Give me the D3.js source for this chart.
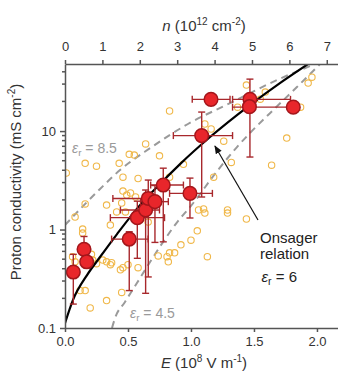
<!DOCTYPE html>
<html>
<head>
<meta charset="utf-8">
<script src="https://cdn.jsdelivr.net/npm/d3@7"></script>
<style>
  body { margin: 0; background: #fff; }
  svg { font-family: "Liberation Sans", Arial, sans-serif; }
  .axis path, .axis line { stroke: #555; stroke-width: 1.5; }
  .axis text { fill: #333; font-size: 13px; }
</style>
</head>
<body>
<div id="chart"></div>
<script>
// measured proton conductivity (red, with error bars)
const redE   = [0.066, 0.151, 0.172, 0.510, 0.574, 0.640, 0.661, 0.714, 0.780, 0.992, 1.085, 1.159, 1.468, 1.464, 1.812];
const redS   = [0.37, 0.63, 0.47, 0.80, 1.32, 1.58, 2.07, 1.92, 2.83, 2.33, 9.0, 21.0, 21.0, 17.7, 17.5];
const redELo = [null, null, null, 0.37, 0.36, 0.44, 0.38, 0.60, 0.68, 0.83, 0.86, 1.01, 1.33, null, 1.33];
const redEHi = [null, null, null, 0.66, 0.79, 0.75, 0.73, 0.82, 0.94, 1.17, 1.33, 1.31, 1.79, null, 1.85];
const redSLo = [0.175, 0.50, null, 0.24, 0.51, 0.225, 0.33, 0.74, 0.75, 1.31, 2.14, null, 5.45, null, null];
const redSHi = [0.56, 0.85, null, 0.95, 1.94, 2.52, 3.18, 2.8, 4.2, 3.33, 15.6, null, 33.7, null, null];

// other measurements (open yellow markers)
const hexE = [0.83, 0.64, 0.51, 0.55, 0.75, 0.16, 0.25, 0.43, 0.01, 0.46, 0.58, 0.83, 0.94, 0.46, 0.49,
  0.52, 0.56, 0.45, 0.16, 0.33, 0.41, 0.48, 0.36, 0.66, 0.14, 0.14, 0.08, 0.81, 0.82, 0.74,
  0.58, 0.44, 0.46, 0.36, 0.30, 0.33, 0.22, 0.08, 0.06, 0.21, 0.25, 0.37, 0.50, 0.16, 0.45,
  0.33, 0.20, 0.12, 1.32, 1.18, 1.06, 1.10, 1.11, 1.29, 1.29, 1.44, 1.05, 1.00, 0.92, 0.83,
  0.87, 1.13, 1.44, 1.59, 1.55, 1.37, 1.87, 1.96, 1.93, 1.11, 1.16, 1.26, 1.76, 1.64];
const hexS = [16.0, 7.4, 5.8, 5.7, 5.6, 4.7, 4.4, 4.7, 3.75, 3.4, 3.3, 3.4, 4.6, 2.46, 2.24,
  2.35, 2.14, 1.86, 1.82, 1.77, 1.51, 1.51, 1.11, 1.19, 1.01, 0.92, 1.34, 0.53, 0.47, 0.54,
  0.41, 0.39, 0.41, 0.44, 0.49, 0.47, 0.49, 0.47, 0.53, 0.56, 0.45, 0.46, 0.44, 0.24, 0.23,
  0.19, 0.16, 0.24, 4.8, 3.4, 1.58, 1.62, 1.47, 1.58, 1.47, 1.28, 0.97, 0.78, 0.70, 0.58,
  0.58, 0.53, 29.3, 24.9, 21.1, 17.5, 17.5, 35.3, 30.7, 11.8, 10.5, 7.9, 8.5, 4.5];

// Onsager relation curves
const onsagerE = [0, 0.063, 0.175, 0.278, 0.413, 0.595, 0.754, 0.913, 1.151, 1.468, 1.706, 1.929];
const onsagerS = [0.112, 0.192, 0.345, 0.526, 0.90, 1.77, 2.90, 4.62, 8.7, 18.4, 30.7, 47.9];
const eps85E = [0, 0.143, 0.278, 0.437, 0.675, 0.976, 1.310, 1.683, 1.984];
const eps85S = [1.11, 1.73, 2.58, 4.02, 6.7, 11.8, 19.2, 33, 47.9];
const eps45E = [0.373, 0.397, 0.476, 0.571, 0.675, 0.778, 0.897, 0.992, 1.214, 1.365, 1.468, 1.627, 1.841, 2.024];
const eps45S = [0.1, 0.126, 0.184, 0.286, 0.468, 0.746, 1.22, 1.69, 4.02, 6.88, 9.55, 15.2, 28.0, 47.9];

// tick labels
const eTicks = [0, 0.5, 1.0, 1.5, 2.0];
const nTicks = [0, 1, 2, 3, 4, 5, 6, 7];
const sTicks = [0.1, 1, 10];

const width = 338, height = 372;
const margins = {top: 64, right: 0, bottom: 44, left: 65};

const svg = d3.select('#chart').append('svg')
  .attr('width', width)
  .attr('height', height);

// scales: bottom E, top n, log conductivity
const x = d3.scaleLinear().domain([0, 2.167]).range([margins.left, width - margins.right]);
const xTop = d3.scaleLinear().domain([0, 7.3]).range([margins.left, width - margins.right]);
const y = d3.scaleLog().domain([0.1, 48]).range([height - margins.bottom, margins.top]);

svg.append('clipPath').attr('id', 'plot')
  .append('rect')
    .attr('x', margins.left).attr('y', margins.top)
    .attr('width', width - margins.left - margins.right)
    .attr('height', height - margins.top - margins.bottom);

const zip = (xs, ys) => xs.map((v, i) => [v, ys[i]]);
const line = d3.line().x(d => x(d[0])).y(d => y(d[1])).curve(d3.curveMonotoneX);

const plot = svg.append('g').attr('clip-path', 'url(#plot)');

// dashed theory curves
[zip(eps85E, eps85S), zip(eps45E, eps45S)].forEach(pts => {
  plot.append('path')
    .attr('d', line(pts))
    .attr('fill', 'none')
    .attr('stroke', '#9a9a9a')
    .attr('stroke-width', 2)
    .attr('stroke-dasharray', '7,5');
});

// open yellow markers
plot.selectAll('.hex')
  .data(zip(hexE, hexS))
  .enter().append('circle')
    .attr('class', 'hex')
    .attr('cx', d => x(d[0]))
    .attr('cy', d => y(d[1]))
    .attr('r', 3.2)
    .attr('fill', 'none')
    .attr('stroke', '#f0b84a')
    .attr('stroke-width', 1.1);

// Onsager relation, er = 6
plot.append('path')
  .attr('d', line(zip(onsagerE, onsagerS)))
  .attr('fill', 'none')
  .attr('stroke', '#000')
  .attr('stroke-width', 2.2);

// error bars
const errColor = '#a8282c';
const cap = 3.5;
const err = plot.append('g').attr('stroke', errColor).attr('stroke-width', 1.4);
redE.forEach((e, i) => {
  const cx = x(e), cy = y(redS[i]);
  if (redELo[i] !== null) {
    const x0 = x(redELo[i]), x1 = x(redEHi[i]);
    err.append('line').attr('x1', x0).attr('x2', x1).attr('y1', cy).attr('y2', cy);
    err.append('line').attr('x1', x0).attr('x2', x0).attr('y1', cy - cap).attr('y2', cy + cap);
    err.append('line').attr('x1', x1).attr('x2', x1).attr('y1', cy - cap).attr('y2', cy + cap);
  }
  if (redSLo[i] !== null) {
    const y0 = y(redSLo[i]), y1 = y(redSHi[i]);
    err.append('line').attr('x1', cx).attr('x2', cx).attr('y1', y0).attr('y2', y1);
    err.append('line').attr('x1', cx - cap).attr('x2', cx + cap).attr('y1', y0).attr('y2', y0);
    err.append('line').attr('x1', cx - cap).attr('x2', cx + cap).attr('y1', y1).attr('y2', y1);
  }
});

// red measured points
plot.selectAll('.pt')
  .data(zip(redE, redS))
  .enter().append('circle')
    .attr('class', 'pt')
    .attr('cx', d => x(d[0]))
    .attr('cy', d => y(d[1]))
    .attr('r', 6.8)
    .attr('fill', '#e8262b')
    .attr('stroke', '#a3161b')
    .attr('stroke-width', 1.5);

// axes
svg.append('g')
  .attr('class', 'axis')
  .attr('transform', `translate(0, ${height - margins.bottom})`)
  .call(d3.axisBottom(x).tickValues(eTicks).tickFormat(d3.format('.1f'))
    .tickSize(4).tickSizeOuter(0).tickPadding(5));

svg.append('g')
  .attr('class', 'axis')
  .attr('transform', `translate(0, ${margins.top})`)
  .call(d3.axisTop(xTop).tickValues(nTicks).tickFormat(d3.format('d'))
    .tickSize(4).tickSizeOuter(0).tickPadding(9));

const yAxis = svg.append('g')
  .attr('class', 'axis')
  .attr('transform', `translate(${margins.left}, 0)`)
  .call(d3.axisLeft(y).tickValues(sTicks).tickFormat(d => d)
    .tickSize(5).tickSizeOuter(0).tickPadding(4));

// minor log ticks
const minor = [];
[0.1, 1, 10].forEach(base => {
  for (let k = 2; k <= 9; k++) if (base * k <= 48) minor.push(base * k);
});
yAxis.selectAll('.minor')
  .data(minor)
  .enter().append('line')
    .attr('class', 'minor')
    .attr('x1', -3).attr('x2', 0)
    .attr('y1', d => y(d)).attr('y2', d => y(d));

// axis titles
const title = svg.append('g').attr('fill', '#333').attr('font-size', 15);

const topTitle = title.append('text')
  .attr('x', 204).attr('y', 31).attr('text-anchor', 'middle');
topTitle.append('tspan').attr('font-style', 'italic').text('n');
topTitle.append('tspan').text(' (10');
topTitle.append('tspan').attr('font-size', 10).attr('dy', -6).text('12');
topTitle.append('tspan').attr('dy', 6).text(' cm');
topTitle.append('tspan').attr('font-size', 10).attr('dy', -6).text('-2');
topTitle.append('tspan').attr('dy', 6).text(')');

const botTitle = title.append('text')
  .attr('x', 204).attr('y', 368).attr('text-anchor', 'middle');
botTitle.append('tspan').attr('font-style', 'italic').text('E');
botTitle.append('tspan').text(' (10');
botTitle.append('tspan').attr('font-size', 10).attr('dy', -6).text('8');
botTitle.append('tspan').attr('dy', 6).text(' V m');
botTitle.append('tspan').attr('font-size', 10).attr('dy', -6).text('-1');
botTitle.append('tspan').attr('dy', 6).text(')');

const leftTitle = title.append('text')
  .attr('transform', 'translate(21, 182) rotate(-90)')
  .attr('text-anchor', 'middle');
leftTitle.append('tspan').text('Proton conductivity (mS cm');
leftTitle.append('tspan').attr('font-size', 10).attr('dy', -6).text('-2');
leftTitle.append('tspan').attr('dy', 6).text(')');

// epsilon labels
function epsLabel(g, px, py, value, color, size) {
  const t = g.append('text').attr('x', px).attr('y', py).attr('fill', color).attr('font-size', size);
  t.append('tspan').attr('font-style', 'italic').text('ε');
  t.append('tspan').attr('font-size', size * 0.7).attr('dy', 3).text('r');
  t.append('tspan').attr('dy', -3).text(' = ' + value);
  return t;
}
epsLabel(svg, x(0.056), y(5.98), '8.5', '#9a9a9a', 14);
epsLabel(svg, x(0.516), y(0.126), '4.5', '#9a9a9a', 14);

// Onsager annotation
svg.append('defs').append('marker')
  .attr('id', 'head')
  .attr('viewBox', '0 0 10 10')
  .attr('refX', 9).attr('refY', 5)
  .attr('markerWidth', 7).attr('markerHeight', 7)
  .attr('orient', 'auto')
  .append('path').attr('d', 'M0,1L10,5L0,9Z').attr('fill', '#111');

svg.append('line')
  .attr('x1', x(1.532)).attr('y1', y(1.25))
  .attr('x2', x(1.19)).attr('y2', y(7.05))
  .attr('stroke', '#111').attr('stroke-width', 1.2)
  .attr('marker-end', 'url(#head)');

svg.append('text').attr('x', x(1.548)).attr('y', y(0.73))
  .attr('fill', '#222').attr('font-size', 15).text('Onsager');
svg.append('text').attr('x', x(1.548)).attr('y', y(0.50))
  .attr('fill', '#222').attr('font-size', 15).text('relation');
epsLabel(svg, x(1.56), y(0.293), '6', '#222', 15);
</script>
</body>
</html>
